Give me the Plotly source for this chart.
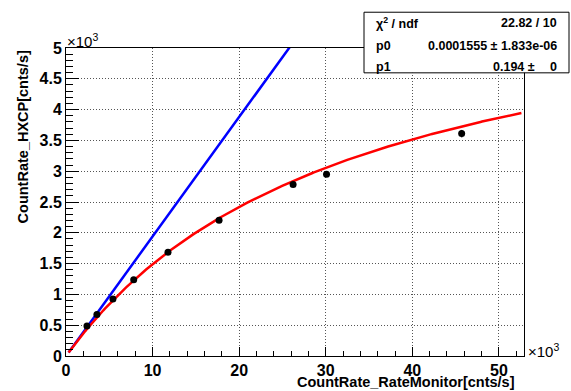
import numpy as np
import plotly.graph_objects as go

# Data (in units of 10^3 cnts/s)
rate_monitor = [2.42, 3.57, 5.42, 7.82, 11.78, 17.68, 26.23, 30.09, 45.7]
rate_hxcp = [0.486, 0.673, 0.926, 1.237, 1.683, 2.203, 2.783, 2.95, 3.61]
rate_hxcp_err = [0.008, 0.01, 0.012, 0.015, 0.018, 0.02, 0.025, 0.035, 0.06]

# Fit parameters
chi2_ndf = "22.82 / 10"
p0_val, p0_err = 0.0001555, "1.833e-06"
p1_val, p1_err = 0.194, "0"
fit_range = [0.3, 52.6]

x_ticks = [0, 10, 20, 30, 40, 50]
y_ticks = [0, 0.5, 1, 1.5, 2, 2.5, 3, 3.5, 4, 4.5, 5]

W, H = 571, 391
L, R, T, B = 66, 524, 48, 358
def px(x):
    return (x - L) / (R - L)
def py(y):
    return (B - y) / (B - T)

FONT = "Liberation Sans, Arial, sans-serif"

xf = np.linspace(fit_range[0], fit_range[1], 300)
xc = xf * 1000.0
y_fit = p1_val * xc / (1 + p0_val * p1_val * xc) / 1000.0
y_lin = p1_val * xc / 1000.0

fig = go.Figure()
fig.add_trace(go.Scatter(x=xf, y=y_lin, mode="lines",
                         line=dict(color="#0000ff", width=2.5), showlegend=False))
fig.add_trace(go.Scatter(x=xf, y=y_fit, mode="lines",
                         line=dict(color="#ff0000", width=2.5), showlegend=False))
fig.add_trace(go.Scatter(x=rate_monitor, y=rate_hxcp, mode="markers",
                         marker=dict(color="black", size=7),
                         error_y=dict(type="data", array=rate_hxcp_err, color="black",
                                      thickness=1.5, width=0),
                         showlegend=False))

axis_common = dict(
    showline=True, linecolor="black", linewidth=1, mirror=True,
    ticks="inside", tickcolor="black", tickwidth=1,
    showgrid=True, gridcolor="#555", gridwidth=1, griddash="1px,2px",
    zeroline=False,
    tickfont=dict(family=FONT, size=16, color="black", weight="bold"),
)

fig.update_xaxes(range=[0, 52.9], tickmode="array", tickvals=x_ticks,
                 ticktext=[str(v) for v in x_ticks], ticklen=9,
                 minor=dict(tick0=0, dtick=2, ticklen=5, ticks="inside",
                            tickcolor="black", showgrid=False),
                 **axis_common)
fig.update_yaxes(range=[0, 5], tickmode="array", tickvals=y_ticks,
                 ticktext=[("%g" % v) for v in y_ticks], ticklen=13,
                 minor=dict(tick0=0, dtick=0.1, ticklen=7, ticks="inside",
                            tickcolor="black", showgrid=False),
                 **axis_common)

ann = []
# axis titles
ann.append(dict(text="CountRate_RateMonitor[cnts/s]", xref="paper", yref="paper",
                x=px(517), y=py(384), xanchor="right", yanchor="middle", showarrow=False,
                font=dict(family=FONT, size=14.5, color="black", weight="bold")))
ann.append(dict(text="CountRate_HXCP[cnts/s]", xref="paper", yref="paper",
                x=px(23), y=py(138), xanchor="center", yanchor="middle", textangle=-90,
                showarrow=False,
                font=dict(family=FONT, size=14.5, color="black", weight="bold")))
# exponents
ann.append(dict(text="×10<sup>3</sup>", xref="paper", yref="paper",
                x=px(65), y=py(40), xanchor="left", yanchor="middle", showarrow=False,
                font=dict(family=FONT, size=15, color="black")))
ann.append(dict(text="×10<sup>3</sup>", xref="paper", yref="paper",
                x=px(526), y=py(352), xanchor="left", yanchor="middle", showarrow=False,
                font=dict(family=FONT, size=15, color="black")))

# stats box
sfont = dict(family=FONT, size=12.5, color="black", weight="bold")
rows = [
    ("χ<sup>2</sup> / ndf", chi2_ndf, 22.5),
    ("p0", "%.7f ± %s" % (p0_val, p0_err), 46),
    ("p1", None, 67.5),
]
for label, val, yc in rows:
    ann.append(dict(text=label, xref="paper", yref="paper", x=px(374), y=py(yc),
                    xanchor="left", yanchor="middle", showarrow=False, font=sfont))
    if val is not None:
        ann.append(dict(text=val, xref="paper", yref="paper", x=px(559), y=py(yc),
                        xanchor="right", yanchor="middle", showarrow=False, font=sfont))
ann.append(dict(text="%g ±" % p1_val, xref="paper", yref="paper", x=px(537), y=py(67.5),
                xanchor="right", yanchor="middle", showarrow=False, font=sfont))
ann.append(dict(text=p1_err, xref="paper", yref="paper", x=px(559), y=py(67.5),
                xanchor="right", yanchor="middle", showarrow=False, font=sfont))

fig.update_layout(
    width=W, height=H,
    margin=dict(l=L, r=W - R, t=T, b=H - B, pad=0),
    paper_bgcolor="white", plot_bgcolor="white",
    showlegend=False,
    annotations=ann,
    shapes=[dict(type="rect", xref="paper", yref="paper",
                 x0=px(364), x1=px(569), y0=py(73), y1=py(12),
                 line=dict(color="black", width=1), fillcolor="white", layer="above")],
)

fig.write_html("out.html", config={"displayModeBar": False},
               post_script="document.body.style.margin='0px';document.body.style.overflow='hidden';")
